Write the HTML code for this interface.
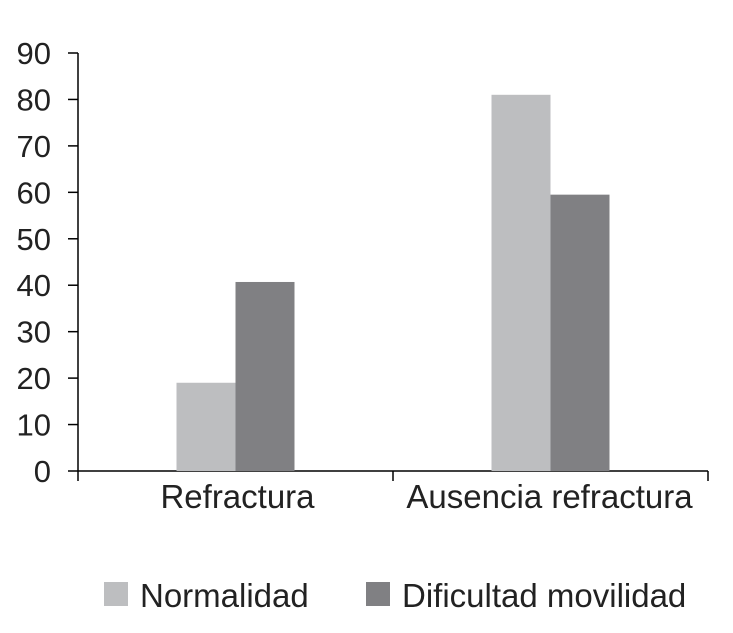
<!DOCTYPE html>
<html><head><meta charset="utf-8"><style>
body{margin:0;background:#fff;}
svg{display:block;font-family:"Liberation Sans",sans-serif;}
</style></head><body>
<svg id="chart" width="733" height="633" viewBox="0 0 733 633" xmlns="http://www.w3.org/2000/svg">
<g id="axes"></g><g id="bars"></g><g id="legend"></g>
</svg>
<script>
const categories = ["Refractura", "Ausencia refractura"];
const normalidad = [19, 81];
const dificultad = [40.7, 59.5];
const yTicks = [0,10,20,30,40,50,60,70,80,90];
const seriesNames = ["Normalidad", "Dificultad movilidad"];

const NS="http://www.w3.org/2000/svg";
const x0=78, x1=708, y0=471, yTop=53, yMax=90;
const y=v=>y0-(v/yMax)*(y0-yTop);
const catW=(x1-x0)/categories.length;
const barW=59;
function mk(t,a,p){const e=document.createElementNS(NS,t);for(const k in a)e.setAttribute(k,a[k]);p.appendChild(e);return e;}
const axes=document.getElementById('axes'), bars=document.getElementById('bars'), legend=document.getElementById('legend');
const ya=mk('line',{x1:x0,y1:yTop,x2:x0,y2:y0,stroke:'#000','stroke-width':1.5},axes);


const xa=mk('line',{x1:x0,y1:y0,x2:x1,y2:y0,stroke:'#000','stroke-width':1.5},axes);


yTicks.forEach(v=>{
  mk('line',{x1:x0-10,y1:y(v),x2:x0,y2:y(v),stroke:'#000','stroke-width':1.5},axes);
  const t=mk('text',{x:x0-27,y:y(v)+11,'text-anchor':'end','font-size':31,fill:'#222'},axes);
  t.textContent=v;
  
  
});
for(let i=0;i<=categories.length;i++){
  mk('line',{x1:x0+i*catW,y1:y0,x2:x0+i*catW,y2:y0+10,stroke:'#000','stroke-width':1.5},axes);
}
categories.forEach((c,i)=>{
  const cx=x0+catW*(i+0.5)+(i?-1:2);
  const t=mk('text',{x:cx,y:508,'text-anchor':'middle','font-size':33,fill:'#222'},axes);
  t.textContent=c;
  
  
});
categories.forEach((c,i)=>{
  const cx=x0+catW*(i+0.5);
  const b1=mk('rect',{x:cx-barW,y:y(normalidad[i]),width:barW,height:y0-y(normalidad[i]),fill:'#bdbec0'},bars);
  
  
  const b2=mk('rect',{x:cx,y:y(dificultad[i]),width:barW,height:y0-y(dificultad[i]),fill:'#808083'},bars);
  
  
});
const lx=[104,366], cols=['#bdbec0','#808083'];
seriesNames.forEach((n,i)=>{
  const r=mk('rect',{x:lx[i],y:582,width:24,height:24,fill:cols[i]},legend);
  
  
  const t=mk('text',{x:lx[i]+36,y:607,'font-size':33,fill:'#222'},legend);
  t.textContent=n;
  
  
});
</script>
</body></html>
